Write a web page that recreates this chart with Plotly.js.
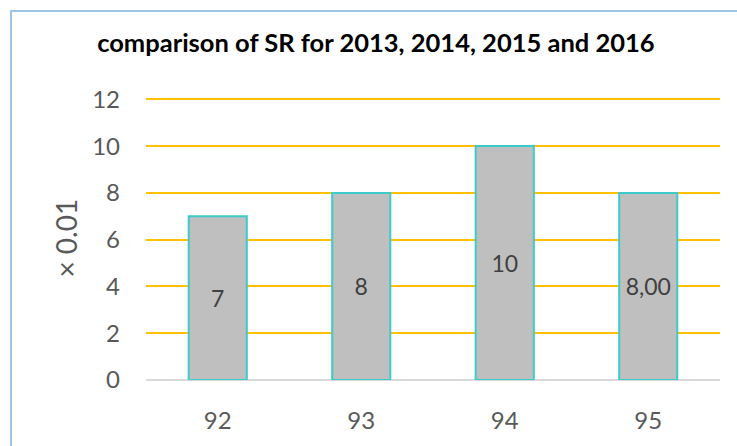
<!DOCTYPE html>
<html>
<head>
<meta charset="utf-8">
<script src="https://cdn.plot.ly/plotly-3.0.1.min.js"></script>
<style>
html,body{margin:0;padding:0;background:#fff;}
#wrap{position:relative;width:737px;height:446px;overflow:hidden;}
#chart{position:absolute;left:0;top:0;width:737px;height:446px;}
#frame{position:absolute;left:10px;top:10px;width:760px;height:460px;border:2px solid #9DC3E6;box-sizing:border-box;pointer-events:none;}
</style>
</head>
<body>
<div id="wrap"><div id="chart"></div><div id="frame"></div></div>
<script>
const categories = ["92", "93", "94", "95"];
const values = [7, 8, 10, 8];
const valueLabels = ["7", "8", "10", "8,00"];
const yTicks = [0, 2, 4, 6, 8, 10, 12];
const titleText = "comparison of SR for 2013, 2014, 2015 and 2016";
const yAxisTitle = "× 0.01";

const FONT = "Lato, 'Open Sans', sans-serif";

const trace = {
  type: "bar",
  x: categories,
  y: values,
  text: valueLabels,
  texttemplate: "%{text}",
  textposition: "inside",
  insidetextanchor: "middle",
  textangle: 0,
  constraintext: "none",
  textfont: {family: FONT, size: 23, color: "#404040"},
  width: 0.405,
  marker: {color: "#BFBFBF", line: {color: "#3CCBCB", width: 2}},
  hoverinfo: "none"
};

const layout = {
  width: 737, height: 446,
  margin: {l: 146, r: 17, t: 97, b: 66, pad: 0},
  paper_bgcolor: "rgba(0,0,0,0)",
  plot_bgcolor: "rgba(0,0,0,0)",
  showlegend: false,
  title: {
    text: "<b>" + titleText + "</b>",
    font: {family: FONT, size: 25.5, color: "#000000"},
    xref: "container", x: 0.51, xanchor: "center",
    yref: "container", y: 0.903, yanchor: "middle"
  },
  xaxis: {
    type: "category",
    showgrid: false,
    showline: false,
    zeroline: false,
    ticks: "",
    ticklabelstandoff: 24,
    tickfont: {family: FONT, size: 24, color: "#595959"}
  },
  yaxis: {
    range: [0, 12.1],
    tickvals: yTicks,
    ticktext: yTicks.map(String),
    showgrid: true,
    gridcolor: "#FFC000",
    gridwidth: 2,
    zeroline: true,
    zerolinecolor: "#D9D9D9",
    zerolinewidth: 2,
    showline: false,
    ticks: "",
    ticklabelstandoff: 25,
    tickfont: {family: FONT, size: 24, color: "#595959"}
  },
  annotations: [{
    text: yAxisTitle,
    xref: "paper", yref: "paper",
    x: -0.141, y: 0.5,
    xanchor: "center", yanchor: "middle",
    textangle: -90,
    showarrow: false,
    font: {family: FONT, size: 28, color: "#595959"}
  }]
};

Plotly.newPlot("chart", [trace], layout, {staticPlot: true, displayModeBar: false});
</script>
</body>
</html>
